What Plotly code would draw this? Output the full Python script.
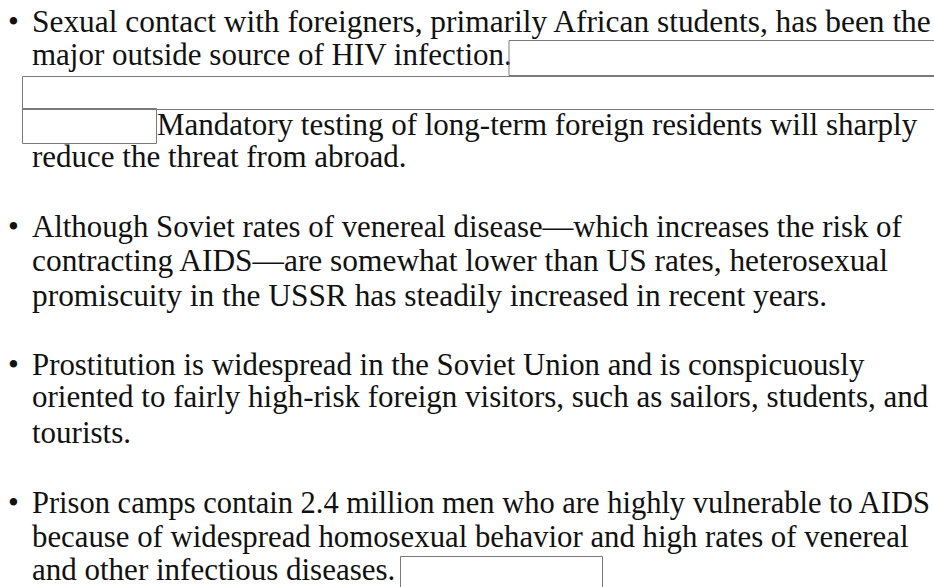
import plotly.graph_objects as go

# ---- content ----
LINES = [
    "Sexual contact with foreigners, primarily African students, has been the",
    "major outside source of HIV infection.",
    "Mandatory testing of long-term foreign residents will sharply",
    "reduce the threat from abroad.",
    "Although Soviet rates of venereal disease\u2014which increases the risk of",
    "contracting AIDS\u2014are somewhat lower than US rates, heterosexual",
    "promiscuity in the USSR has steadily increased in recent years.",
    "Prostitution is widespread in the Soviet Union and is conspicuously",
    "oriented to fairly high-risk foreign visitors, such as sailors, students, and",
    "tourists.",
    "Prison camps contain 2.4 million men who are highly vulnerable to AIDS",
    "because of widespread homosexual behavior and high rates of venereal",
    "and other infectious diseases.",
]
BULLET_LINES = [0, 4, 7, 10]

# ---- layout (page pixel coordinates) ----
W, H = 934, 587
BASE_SIZE = 31
LINE_SIZE = [31.4, 31, 31, 31, 30.8, 31.4, 31.4, 30.8, 31, 31, 30.5, 30.8, 31]
LINE_X = [32, 32, 157, 32, 32, 32, 32, 32, 32, 32, 32, 32, 32]
LINE_BASE = [32, 65, 135, 167, 237, 271, 306, 375, 407, 443, 513, 547, 580]
BULLET_X = 8
# redaction boxes: x0, y0, x1, y1
BOXES = [
    (509, 40.5, 940, 75.5),
    (22.5, 76.5, 940, 109.5),
    (22.5, 108.5, 156.5, 143.5),
    (400.5, 556.5, 602.5, 600),
]

# textposition 'middle' puts the baseline at y + 0.25*size
fig = go.Figure()
fig.add_trace(go.Scatter(
    x=LINE_X,
    y=[b - 0.25 * s for b, s in zip(LINE_BASE, LINE_SIZE)],
    mode="text",
    text=LINES,
    textposition="middle right",
    textfont=dict(family="Liberation Serif", size=LINE_SIZE, color="#111111"),
    hoverinfo="skip",
    showlegend=False,
))
fig.add_trace(go.Scatter(
    x=[BULLET_X] * len(BULLET_LINES),
    y=[LINE_BASE[i] - 0.25 * BASE_SIZE for i in BULLET_LINES],
    mode="text",
    text=["\u2022"] * len(BULLET_LINES),
    textposition="middle right",
    textfont=dict(family="Liberation Serif", size=BASE_SIZE, color="#111111"),
    hoverinfo="skip",
    showlegend=False,
))

for (x0, y0, x1, y1) in BOXES:
    fig.add_shape(type="rect", xref="x", yref="y", x0=x0, y0=y0, x1=x1, y1=y1,
                  line=dict(color="#7a7a7a", width=1), fillcolor="rgba(0,0,0,0)",
                  layer="above")

fig.update_layout(
    width=W, height=H,
    margin=dict(l=0, r=0, t=0, b=0),
    paper_bgcolor="white", plot_bgcolor="white",
    xaxis=dict(range=[0, W], visible=False, fixedrange=True),
    yaxis=dict(range=[H, 0], visible=False, fixedrange=True),
    showlegend=False,
)

fig.write_html("out.html", config={"displayModeBar": False},
               post_script="document.body.style.margin='0px';")
